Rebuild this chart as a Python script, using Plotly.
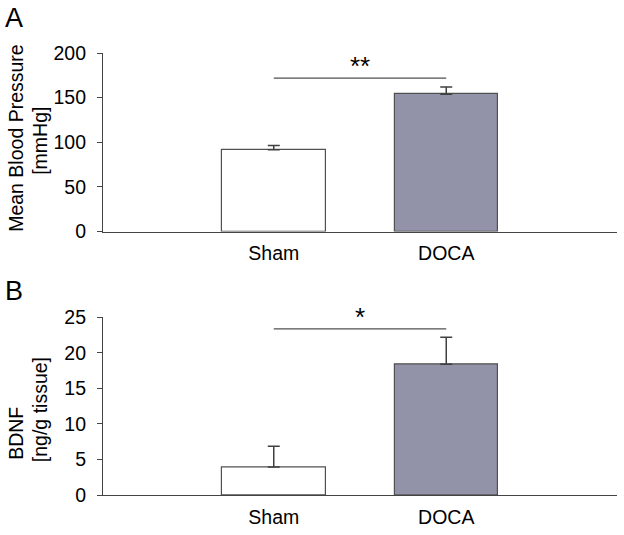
import plotly.graph_objects as go
from plotly.subplots import make_subplots

groups = ["Sham", "DOCA"]
bp_mean = [91.7, 153.8]
bp_err = [4.6, 8.1]
bdnf_mean = [3.95, 18.4]
bdnf_err = [2.9, 3.8]
fills = ["#FFFFFF", "#9293A9"]
bp_sig_level = 171.9
bdnf_sig_level = 23.4

xpos = [0, 1]

FONT_FAMILY = "Liberation Sans, Arial"
font = dict(family=FONT_FAMILY, size=19.5, color="#000000")

W, H = 624, 535
ML, MR, MT, MB = 103, 7, 53, 34
PH = H - MT - MB
PW = W - ML - MR


def px_x(x):
    """figure pixel -> paper x"""
    return (x - ML) / PW


def px_y(y):
    """figure pixel -> paper y"""
    return (H - MB - y) / PH


fig = make_subplots(rows=2, cols=1)

for row, means, errs in [(1, bp_mean, bp_err), (2, bdnf_mean, bdnf_err)]:
    fig.add_trace(go.Bar(x=xpos, y=means, width=0.6,
                         marker=dict(color=fills, line=dict(color="#505050", width=1.2)),
                         error_y=dict(type="data", array=errs, arrayminus=[0, 0], symmetric=False,
                                      color="#404040", thickness=1.5, width=6),
                         showlegend=False, hoverinfo="skip"), row=row, col=1)

# significance lines
fig.add_trace(go.Scatter(x=xpos, y=[bp_sig_level] * 2, mode="lines",
                         line=dict(color="#505050", width=1.2), showlegend=False, hoverinfo="skip"),
              row=1, col=1)
fig.add_trace(go.Scatter(x=xpos, y=[bdnf_sig_level] * 2, mode="lines",
                         line=dict(color="#505050", width=1.2), showlegend=False, hoverinfo="skip"),
              row=2, col=1)

star_font = dict(family=FONT_FAMILY, size=26, color="#000")
fig.add_annotation(x=0.5, y=bp_sig_level, xref="x", yref="y", text="**", showarrow=False,
                   yanchor="middle", yshift=12, font=star_font)
fig.add_annotation(x=0.5, y=bdnf_sig_level, xref="x2", yref="y2", text="*", showarrow=False,
                   yanchor="middle", yshift=12, font=star_font)

# panel letters
letter_font = dict(family=FONT_FAMILY, size=27, color="#000")
fig.add_annotation(x=px_x(3), y=px_y(0), xref="paper", yref="paper", text="A", showarrow=False,
                   xanchor="left", yanchor="top", font=letter_font)
fig.add_annotation(x=px_x(3), y=px_y(277), xref="paper", yref="paper", text="B", showarrow=False,
                   xanchor="left", yanchor="top", font=letter_font)

# y-axis titles (each line placed separately), pixel centres
titles = [
    ("Mean Blood Pressure", 16, 139),
    ("[mmHg]", 40, 142),
    ("BDNF", 16, 439),
    ("[ng/g tissue]", 40, 415),
]
for txt, fx, fy in titles:
    fig.add_annotation(x=px_x(fx), y=px_y(fy), xref="paper", yref="paper", text=txt,
                       showarrow=False, textangle=-90, xanchor="center", yanchor="middle",
                       font=font)

axis_common = dict(showgrid=False, zeroline=False, showline=True, linecolor="#444444", linewidth=1.2)

fig.update_xaxes(range=[-0.99, 1.99], tickvals=xpos, ticktext=groups, ticks="",
                 tickfont=font, ticklabelstandoff=4, **axis_common)
fig.update_yaxes(ticks="outside", ticklen=5, tickcolor="#444444", tickwidth=1.2, tickfont=font,
                 ticklabelstandoff=7, **axis_common)

fig.update_yaxes(range=[0, 200], tickvals=[0, 50, 100, 150, 200], row=1, col=1)
fig.update_yaxes(range=[0, 25], tickvals=[0, 5, 10, 15, 20, 25], row=2, col=1)

fig.update_layout(
    width=W, height=H,
    margin=dict(l=ML, r=MR, t=MT, b=MB),
    plot_bgcolor="#FFFFFF", paper_bgcolor="#FFFFFF",
    bargap=0,
    yaxis=dict(domain=[px_y(234), 1.0]),
    yaxis2=dict(domain=[0.0, px_y(321)]),
    xaxis=dict(anchor="y"),
    xaxis2=dict(anchor="y2"),
)

fig.write_html(
    "out.html",
    config={"displayModeBar": False},
    post_script="document.body.style.margin='0';document.body.style.overflow='hidden';",
)
